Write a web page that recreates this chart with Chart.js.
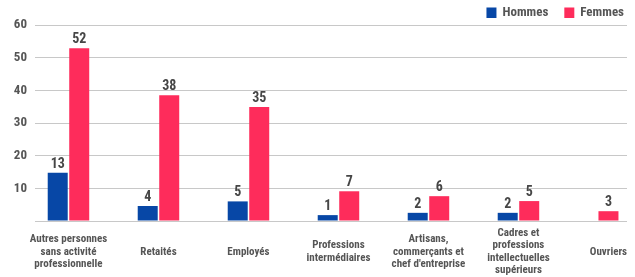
<!DOCTYPE html>
<html>
<head>
<meta charset="utf-8">
<script src="https://cdn.jsdelivr.net/npm/chart.js@4"></script>
<style>
  body { margin: 0; background: #fff; }
  canvas { display: block; }
</style>
</head>
<body>
<canvas id="chart" width="635" height="277"></canvas>
<script>
const categories = [
    ['Autres personnes', 'sans activité', 'professionnelle'],
    ['Retaités'],
    ['Employés'],
    ['Professions', 'intermédiaires'],
    ['Artisans,', 'commerçants et', "chef d'entreprise"],
    ['Cadres et', 'professions', 'intellectuelles', 'supérieurs'],
    ['Ouvriers']
];

// bar heights as drawn in the picture
const hommes = [14.8, 4.6, 6.0, 1.8, 2.5, 2.5, null];
const femmes = [52.9, 38.5, 34.9, 9.1, 7.6, 6.1, 3.0];

// numbers printed above the bars
const hommesLabels = [13, 4, 5, 1, 2, 2, null];
const femmesLabels = [52, 38, 35, 7, 6, 5, 3];

const yTicks = [0, 10, 20, 30, 40, 50, 60];

const FONT = "'Roboto Condensed', 'Open Sans', sans-serif";

// draw the value above each bar
const valueLabels = {
    id: 'valueLabels',
    afterDatasetsDraw(chart) {
        const ctx = chart.ctx;
        ctx.save();
        ctx.font = 'bold 14px ' + FONT;
        ctx.fillStyle = '#464646';
        ctx.textAlign = 'center';
        ctx.textBaseline = 'alphabetic';
        chart.data.datasets.forEach((ds, di) => {
            const meta = chart.getDatasetMeta(di);
            meta.data.forEach((bar, i) => {
                const lbl = ds.valueLabels[i];
                if (lbl === null || lbl === undefined) return;
                ctx.fillText(lbl, bar.x, bar.y - 5);
            });
        });
        ctx.restore();
    }
};

// small legend in the top right corner
const topLegend = {
    id: 'topLegend',
    afterDraw(chart) {
        const ctx = chart.ctx;
        ctx.save();
        ctx.font = 'bold 13px ' + FONT;
        ctx.textBaseline = 'middle';
        ctx.textAlign = 'left';
        let x = 624;
        const y = 12.5;
        const items = chart.data.datasets.slice().reverse();
        items.forEach(ds => {
            const w = ctx.measureText(ds.label).width;
            x -= w;
            ctx.fillStyle = '#555';
            ctx.fillText(ds.label, x, y + 0.5);
            x -= 6 + 10;
            ctx.fillStyle = ds.backgroundColor;
            ctx.fillRect(x, y - 5, 10, 10.5);
            x -= 16;
        });
        ctx.restore();
    }
};

new Chart(document.getElementById('chart'), {
    type: 'bar',
    data: {
        datasets: [{
            label: 'Hommes',
            data: hommes.map((v, i) => ({x: i, y: v})),
            valueLabels: hommesLabels,
            backgroundColor: '#0747a6'
        }, {
            label: 'Femmes',
            data: femmes.map((v, i) => ({x: i, y: v})),
            valueLabels: femmesLabels,
            backgroundColor: '#fe2c5b'
        }]
    },
    options: {
        responsive: false,
        animation: false,
        skipNull: true,
        categoryPercentage: 0.478,
        barPercentage: 0.93,
        maxBarThickness: 20,
        layout: { padding: { left: 0, right: 8, top: 25, bottom: 0 } },
        plugins: {
            legend: { display: false },
            tooltip: { enabled: false }
        },
        scales: {
            x: {
                type: 'linear',
                bounds: 'data',
                offset: false,
                min: -0.372,
                max: 6.206,
                afterBuildTicks: s => { s.ticks = categories.map((c, i) => ({value: i})); },
                afterFit: s => { s.height = 56; },
                grid: { display: false, offset: false },
                border: { display: false },
                ticks: {
                    autoSkip: false,
                    maxRotation: 0,
                    padding: 4,
                    crossAlign: 'center',
                    color: '#555',
                    font: { family: FONT, size: 11, weight: 'bold', lineHeight: 1.14 },
                    callback: v => categories[v] || ''
                }
            },
            y: {
                min: 0,
                max: 60,
                afterBuildTicks: s => { s.ticks = yTicks.map(v => ({value: v})); },
                afterFit: s => { s.width = 35; },
                border: { display: false },
                grid: { color: '#c8c8c8', lineWidth: 1, drawTicks: false },
                ticks: {
                    padding: 8,
                    color: '#555',
                    font: { family: FONT, size: 13, weight: 'bold' },
                    callback: v => v === 0 ? '' : v
                }
            }
        }
    },
    plugins: [valueLabels, topLegend]
});
</script>
</body>
</html>
